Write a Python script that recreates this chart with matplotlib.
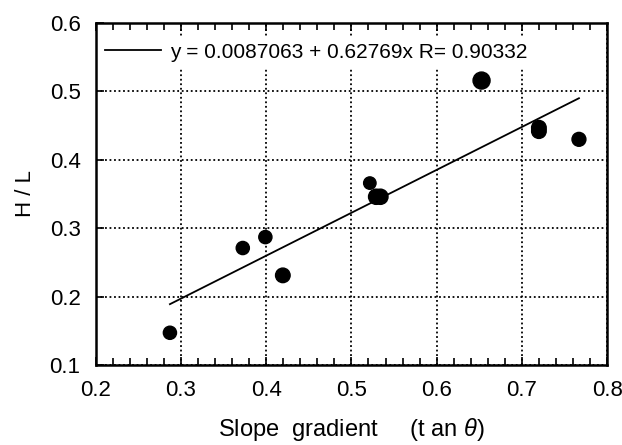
import numpy as np
import matplotlib
matplotlib.use('Agg')
from matplotlib import pyplot as plt
from matplotlib.ticker import MultipleLocator

plt.rcParams['font.family'] = ['Liberation Sans', 'DejaVu Sans']
plt.rcParams['mathtext.fontset'] = 'custom'
plt.rcParams['mathtext.it'] = 'Liberation Sans:italic'

# data
slope = [0.287, 0.3725, 0.399, 0.4195, 0.5216, 0.529, 0.6527, 0.720, 0.767]
hl = [0.147, 0.271, 0.287, 0.231, 0.366, 0.346, 0.516, 0.442, 0.430]
dot_size = [90, 90, 90, 110, 80, 120, 150, 110, 100]

intercept = 0.0087063
coef = 0.62769
r_val = 0.90332

fig = plt.figure(figsize=(6.22, 4.45), dpi=100)
ax = fig.add_axes([0.154, 0.180, 0.822, 0.768])

ax.scatter(slope, hl, s=dot_size, color='black', zorder=3)
# second dot of the two overlapping ones
ax.scatter([0.720, 0.534], [0.447, 0.346], s=[110, 120], color='black', zorder=3)

xf = np.array([min(slope), max(slope)])
ax.plot(xf, intercept + coef * xf, color='black', lw=1.3, zorder=2)

ax.set_xlim(0.2, 0.8)
ax.set_ylim(0.1, 0.6)
ax.xaxis.set_major_locator(MultipleLocator(0.1))
ax.xaxis.set_minor_locator(MultipleLocator(0.02))
ax.yaxis.set_major_locator(MultipleLocator(0.1))
ax.tick_params(axis='x', which='both', direction='in', top=True, bottom=True,
               labelsize=16, pad=11)
ax.tick_params(axis='x', which='major', length=6, width=1.2)
ax.tick_params(axis='x', which='minor', length=5, width=1.2)
ax.tick_params(axis='y', direction='in', left=True, right=False, length=6,
               width=1.2, labelsize=16, pad=11)
ax.xaxis.set_major_formatter(plt.FuncFormatter(lambda v, p: f'{v:.1f}'))
ax.yaxis.set_major_formatter(plt.FuncFormatter(lambda v, p: f'{v:.1f}'))

ax.grid(True, which='major', color='black', linestyle=(0, (1, 1.5)), lw=1.3)
for s in ax.spines.values():
    s.set_linewidth(1.8)

ax.set_xlabel(r'Slope  gradient     (t an $\it{\theta}$)', fontsize=17, labelpad=11)
ax.set_ylabel('H / L', fontsize=16, labelpad=10)

# white box behind the legend hides the grid there, like the original
leg = ax.legend([plt.Line2D([], [], color='black', lw=1.3)],
                [f'y = {intercept} + {coef}x R= {r_val}'],
                loc='upper left', bbox_to_anchor=(0.0, 0.97), frameon=True,
                fancybox=False, facecolor='white', edgecolor='none',
                framealpha=1, fontsize=15, handlelength=2.7,
                handletextpad=0.4, borderaxespad=0.15, borderpad=0.3)

fig.savefig('out.png', dpi=100)
